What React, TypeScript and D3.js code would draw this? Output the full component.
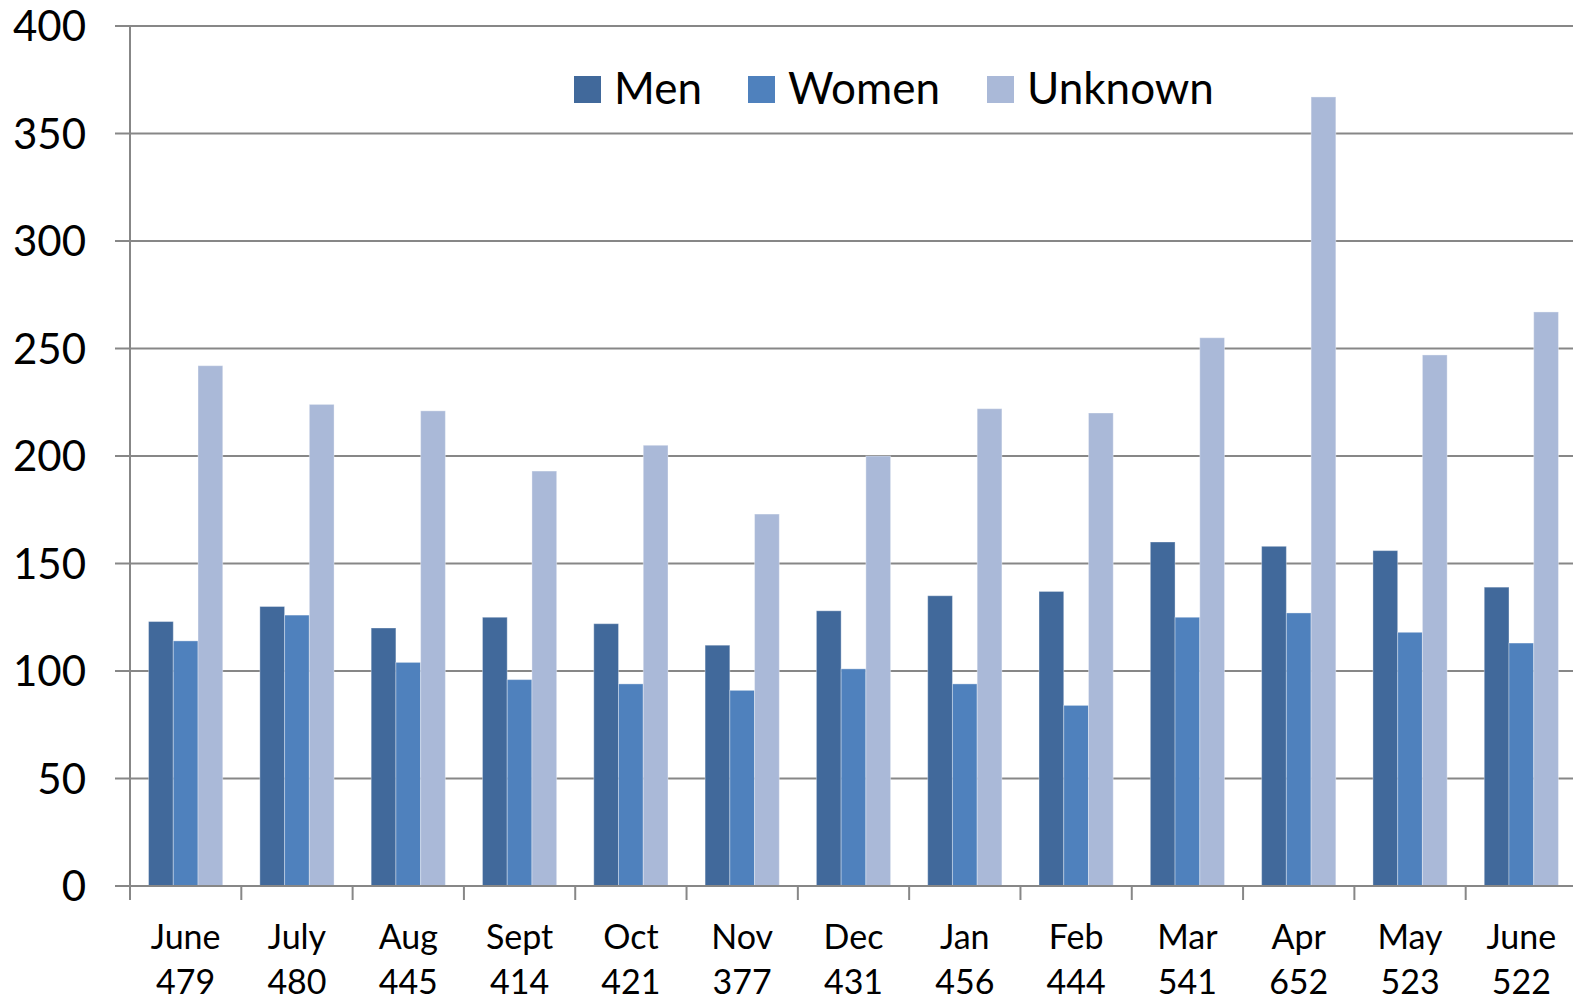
import { useEffect, useRef } from 'react';
import * as d3 from 'd3';

const months = ['June', 'July', 'Aug', 'Sept', 'Oct', 'Nov', 'Dec', 'Jan', 'Feb', 'Mar', 'Apr', 'May', 'June'];
const totals = ['479', '480', '445', '414', '421', '377', '431', '456', '444', '541', '652', '523', '522'];
const seriesNames = ['Men', 'Women', 'Unknown'];
const men = [123, 130, 120, 125, 122, 112, 128, 135, 137, 160, 158, 156, 139];
const women = [114, 126, 104, 96, 94, 91, 101, 94, 84, 125, 127, 118, 113];
const unknown = [242, 224, 221, 193, 205, 173, 200, 222, 220, 255, 367, 247, 267];
const yTicks = [0, 50, 100, 150, 200, 250, 300, 350, 400];

const colors = ['#41699B', '#4F81BD', '#AAB9D8'];
const font = 'Lato, "Open Sans", sans-serif';

export default function App() {
  const ref = useRef<SVGSVGElement>(null);

  useEffect(() => {
    const width = 1573;
    const height = 997;
    const left = 130;
    const right = 1577;
    const top = 26;
    const bottom = 886;

    const svg = d3.select(ref.current).attr('width', width).attr('height', height);
    svg.selectAll('*').remove();

    const data = months.map((m, i) => ({ i, month: m, total: totals[i], values: [men[i], women[i], unknown[i]] }));

    const x0 = d3.scaleBand<number>().domain(data.map(d => d.i)).range([left, right]).padding(0);
    const x1 = d3.scaleBand<number>().domain([0, 1, 2]).range([0, x0.bandwidth()]).paddingInner(0).paddingOuter(0.75);
    const y = d3.scaleLinear().domain([0, 400]).range([bottom, top]);

    // gridlines + y labels
    const grid = svg.append('g');
    grid.selectAll('line')
      .data(yTicks)
      .join('line')
      .attr('x1', left - 15)
      .attr('x2', width)
      .attr('y1', d => y(d))
      .attr('y2', d => y(d))
      .attr('stroke', '#878787')
      .attr('stroke-width', 2);

    grid.selectAll('text')
      .data(yTicks)
      .join('text')
      .attr('x', 86)
      .attr('y', d => y(d) + 15)
      .attr('text-anchor', 'end')
      .attr('font-family', font)
      .attr('font-size', 42)
      .attr('fill', '#000')
      .text(d => d);

    // bars
    const groups = svg.append('g')
      .selectAll('g')
      .data(data)
      .join('g')
      .attr('transform', d => `translate(${x0(d.i)},0)`);

    groups.selectAll('rect')
      .data(d => d.values.map((v, k) => ({ v, k })))
      .join('rect')
      .attr('x', d => x1(d.k)!)
      .attr('width', x1.bandwidth())
      .attr('y', d => y(d.v))
      .attr('height', d => bottom - y(d.v))
      .attr('fill', d => colors[d.k])
      .attr('stroke', 'rgba(255,255,255,0.35)')
      .attr('stroke-width', 1);

    // axes lines
    svg.append('line')
      .attr('x1', left).attr('x2', left)
      .attr('y1', top).attr('y2', bottom + 14)
      .attr('stroke', '#878787').attr('stroke-width', 2);

    svg.append('line')
      .attr('x1', left - 15).attr('x2', width)
      .attr('y1', bottom).attr('y2', bottom)
      .attr('stroke', '#878787').attr('stroke-width', 2);

    const boundaries = data.map(d => x0(d.i)!).concat([right]);
    svg.append('g')
      .selectAll('line')
      .data(boundaries)
      .join('line')
      .attr('x1', d => d).attr('x2', d => d)
      .attr('y1', bottom).attr('y2', bottom + 14)
      .attr('stroke', '#878787').attr('stroke-width', 2);

    // x labels
    const xl = svg.append('g')
      .selectAll('text')
      .data(data)
      .join('text')
      .attr('text-anchor', 'middle')
      .attr('font-family', font)
      .attr('font-size', 34)
      .attr('fill', '#000');
    xl.append('tspan')
      .attr('x', d => x0(d.i)! + x0.bandwidth() / 2)
      .attr('y', 949)
      .text(d => d.month);
    xl.append('tspan')
      .attr('x', d => x0(d.i)! + x0.bandwidth() / 2)
      .attr('y', 994)
      .text(d => d.total);

    // legend
    const legendX = [574, 748, 987];
    const legend = svg.append('g')
      .selectAll('g')
      .data(seriesNames)
      .join('g')
      .attr('transform', (d, i) => `translate(${legendX[i]},76)`);
    legend.append('rect')
      .attr('width', 27).attr('height', 27)
      .attr('fill', (d, i) => colors[i]);
    legend.append('text')
      .attr('x', 40)
      .attr('y', 28)
      .attr('font-family', font)
      .attr('font-size', 44)
      .attr('fill', '#000')
      .text(d => d);
  }, []);

  return <svg ref={ref} style={{ position: 'absolute', left: 0, top: 0, background: '#fff' }} />;
}
